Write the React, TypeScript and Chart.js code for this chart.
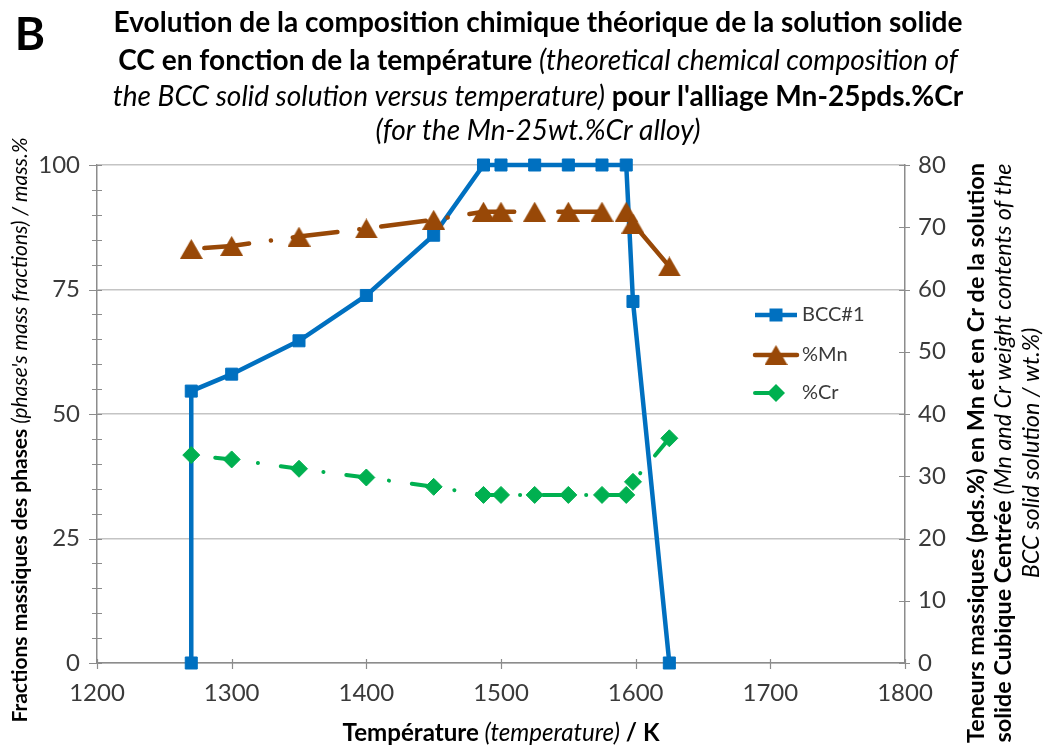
import React, { useEffect, useRef } from 'react';
import { Chart, registerables } from 'chart.js';

Chart.register(...registerables);

// ---- Data ----
const bccTemperature = [1270, 1270, 1300, 1350, 1400, 1450, 1487, 1500, 1525, 1550, 1575, 1593, 1598, 1625];
const bccFraction = [0, 54.6, 58.0, 64.7, 73.8, 85.9, 100, 100, 100, 100, 100, 100, 72.6, 0];
const compTemperature = [1270, 1300, 1350, 1400, 1450, 1487, 1500, 1525, 1550, 1575, 1593, 1598, 1625];
const mnContent = [66.5, 67.0, 68.5, 69.8, 71.2, 72.5, 72.5, 72.5, 72.5, 72.5, 72.5, 70.6, 63.7];
const crContent = [33.4, 32.7, 31.2, 29.8, 28.3, 27.0, 27.0, 27.0, 27.0, 27.0, 27.0, 29.1, 36.1];
const seriesLabels = ['BCC#1', '%Mn', '%Cr'];

const BLUE = '#0070C0';
const BROWN = '#984807';
const GREEN = '#00B050';
const AXIS = '#8c8c8c';
const GRID = '#c4c4c4';
const TICK_TXT = '#3a3a3a';
const FONT = 'Lato';

type Seg = { t: string; b?: boolean; i?: boolean };

function fontOf(s: Seg, size: number) {
  return `${s.i ? 'italic ' : ''}${s.b ? 'bold ' : ''}${size}px ${FONT}`;
}
function widthOf(ctx: CanvasRenderingContext2D, segs: Seg[], size: number) {
  let w = 0;
  for (const s of segs) {
    ctx.font = fontOf(s, size);
    w += ctx.measureText(s.t).width;
  }
  return w;
}
function fitSize(ctx: CanvasRenderingContext2D, segs: Seg[], target: number) {
  const w = widthOf(ctx, segs, 100);
  return (100 * target) / w;
}
function drawSegs(ctx: CanvasRenderingContext2D, segs: Seg[], size: number, cx: number, cy: number, color: string) {
  const w = widthOf(ctx, segs, size);
  let x = cx - w / 2;
  ctx.fillStyle = color;
  ctx.textBaseline = 'middle';
  ctx.textAlign = 'left';
  for (const s of segs) {
    ctx.font = fontOf(s, size);
    ctx.fillText(s.t, x, cy);
    x += ctx.measureText(s.t).width;
  }
}

const titleLines: Seg[][] = [
  [{ t: 'Evolution de la composition chimique théorique de la solution solide', b: true }],
  [{ t: 'CC en fonction de la température ', b: true }, { t: '(theoretical chemical composition of', i: true }],
  [{ t: 'the BCC solid solution versus temperature)', i: true }, { t: " pour l'alliage Mn-25pds.%Cr", b: true }],
  [{ t: '(for the Mn-25wt.%Cr alloy)', i: true }],
];
const xTitle: Seg[] = [{ t: 'Température', b: true }, { t: ' (temperature)', i: true }, { t: ' / K', b: true }];
const leftTitle: Seg[] = [{ t: 'Fractions massiques des phases', b: true }, { t: " (phase's mass fractions) / mass.%", i: true }];
const rightTitle: Seg[][] = [
  [{ t: 'Teneurs massiques (pds.%) en Mn et en Cr de la solution', b: true }],
  [{ t: 'solide Cubique Centrée ', b: true }, { t: '(Mn and Cr weight contents of the', i: true }],
  [{ t: 'BCC solid solution / wt.%)', i: true }],
];

function makeTriangle(color: string, w: number, h: number) {
  const c = document.createElement('canvas');
  c.width = w;
  c.height = h;
  const g = c.getContext('2d')!;
  g.fillStyle = color;
  g.beginPath();
  g.moveTo(w / 2, 0);
  g.lineTo(w, h);
  g.lineTo(0, h);
  g.closePath();
  g.fill();
  return c;
}

export default function App() {
  const ref = useRef<HTMLCanvasElement>(null);

  useEffect(() => {
    const canvas = ref.current!;
    const tri = makeTriangle(BROWN, 23, 20);

    const textPlugin = {
      id: 'richText',
      beforeDatasetsDraw(chart: any) {
        const ctx: CanvasRenderingContext2D = chart.ctx;
        const ca = chart.chartArea;
        const yL = chart.scales.yL;
        const yR = chart.scales.yR;
        const x = chart.scales.x;
        ctx.save();
        ctx.strokeStyle = AXIS;
        ctx.lineWidth = 1.2;
        ctx.beginPath();
        for (let v = 0; v <= 100; v += 5) {
          const y = Math.round(yL.getPixelForValue(v)) + 0.5;
          const major = v % 25 === 0;
          ctx.moveTo(ca.left - (major ? 8 : 5), y);
          ctx.lineTo(ca.left + 5, y);
        }
        for (let v = 0; v <= 80; v += 10) {
          const y = Math.round(yR.getPixelForValue(v)) + 0.5;
          ctx.moveTo(ca.right - 6, y);
          ctx.lineTo(ca.right + 5, y);
        }
        for (let v = 1200; v <= 1800; v += 100) {
          const xx = Math.round(x.getPixelForValue(v)) + 0.5;
          ctx.moveTo(xx, ca.bottom - 4);
          ctx.lineTo(xx, ca.bottom + 6);
        }
        ctx.stroke();
        ctx.restore();
      },
      afterDraw(chart: any) {
        const ctx: CanvasRenderingContext2D = chart.ctx;
        const ca = chart.chartArea;
        ctx.save();
        // panel letter
        ctx.fillStyle = '#000';
        ctx.font = `bold 46px ${FONT}`;
        ctx.textBaseline = 'middle';
        ctx.textAlign = 'center';
        ctx.fillText('B', 30, 35);
        // title
        const ts = fitSize(ctx, titleLines[0], 849);
        const tys = [23, 61, 97, 131];
        titleLines.forEach((l, i) => drawSegs(ctx, l, ts, 538, tys[i], '#000'));
        // x axis title
        const xs = fitSize(ctx, xTitle, 317);
        drawSegs(ctx, xTitle, xs, (ca.left + ca.right) / 2, 733, '#000');
        // left axis title
        const ls = fitSize(ctx, leftTitle, 585);
        ctx.save();
        ctx.translate(20, 430);
        ctx.rotate(-Math.PI / 2);
        drawSegs(ctx, leftTitle, ls, 0, 0, '#000');
        ctx.restore();
        // right axis title
        const rs = fitSize(ctx, rightTitle[0], 580);
        const rxs = [976, 1003, 1031];
        rightTitle.forEach((l, i) => {
          ctx.save();
          ctx.translate(rxs[i], 453);
          ctx.rotate(-Math.PI / 2);
          drawSegs(ctx, l, rs, 0, 0, '#000');
          ctx.restore();
        });
        // legend
        const ds = chart.data.datasets;
        const lys = [315, 355, 393];
        ds.forEach((d: any, i: number) => {
          const y = lys[i];
          ctx.save();
          ctx.strokeStyle = d.borderColor;
          ctx.lineWidth = d.borderWidth;
          ctx.lineCap = d.borderCapStyle || 'butt';
          ctx.setLineDash(d.borderDash || []);
          ctx.beginPath();
          ctx.moveTo(755, y);
          ctx.lineTo(797, y);
          ctx.stroke();
          ctx.restore();
          const mx = 776;
          ctx.fillStyle = d.borderColor;
          if (i === 0) {
            ctx.fillRect(mx - 6.5, y - 6.5, 13, 13);
          } else if (i === 1) {
            ctx.drawImage(tri, mx - 11.5, y - 10);
          } else {
            ctx.beginPath();
            ctx.moveTo(mx - 9, y);
            ctx.lineTo(mx, y - 9);
            ctx.lineTo(mx + 9, y);
            ctx.lineTo(mx, y + 9);
            ctx.closePath();
            ctx.fill();
          }
          ctx.fillStyle = TICK_TXT;
          ctx.font = `20px ${FONT}`;
          ctx.textAlign = 'left';
          ctx.textBaseline = 'middle';
          ctx.fillText(seriesLabels[i], 802, y);
        });
        ctx.restore();
      },
    };

    const chart = new Chart(canvas, {
      type: 'line',
      data: {
        datasets: [
          {
            label: seriesLabels[0],
            data: bccTemperature.map((t, i) => ({ x: t, y: bccFraction[i] })),
            yAxisID: 'yL',
            borderColor: BLUE,
            backgroundColor: BLUE,
            borderWidth: 4.5,
            pointStyle: 'rect',
            pointRadius: 8.5,
            pointBorderWidth: 1,
            pointBackgroundColor: BLUE,
            pointBorderColor: BLUE,
            clip: false,
            order: 3,
          } as any,
          {
            label: seriesLabels[1],
            data: compTemperature.map((t, i) => ({ x: t, y: mnContent[i] })),
            yAxisID: 'yR',
            borderColor: BROWN,
            backgroundColor: BROWN,
            borderWidth: 4.5,
            borderDash: [45, 22, 0.1, 22],
            borderDashOffset: 76,
            borderCapStyle: 'round',
            pointStyle: tri,
            pointRadius: 11,
            clip: false,
            order: 1,
          } as any,
          {
            label: seriesLabels[2],
            data: compTemperature.map((t, i) => ({ x: t, y: crContent[i] })),
            yAxisID: 'yR',
            borderColor: GREEN,
            backgroundColor: GREEN,
            borderWidth: 4,
            borderDash: [20, 23, 0.1, 23],
            borderDashOffset: 42,
            borderCapStyle: 'round',
            pointStyle: 'rectRot',
            pointRadius: 8.5,
            pointBorderWidth: 1,
            pointBackgroundColor: GREEN,
            pointBorderColor: GREEN,
            clip: false,
            order: 2,
          } as any,
        ],
      },
      options: {
        animation: false,
        responsive: false,
        devicePixelRatio: 1,
        events: [],
        layout: { padding: { top: 165, left: 0, right: 0, bottom: 0 } },
        plugins: {
          legend: { display: false },
          tooltip: { enabled: false },
          title: { display: false },
        },
        scales: {
          x: {
            type: 'linear',
            min: 1200,
            max: 1800,
            ticks: {
              stepSize: 100,
              color: TICK_TXT,
              font: { family: FONT, size: 24 },
              padding: 16,
              maxRotation: 0,
              callback: (v: any) => String(v),
            },
            grid: { display: true, drawOnChartArea: false, drawTicks: false },
            border: { display: true, color: AXIS, width: 1.5 },
            afterFit: (s: any) => { s.height = 83; },
          },
          yL: {
            type: 'linear',
            position: 'left',
            min: 0,
            max: 100,
            ticks: { stepSize: 25, color: TICK_TXT, font: { family: FONT, size: 24 }, padding: 17 },
            grid: { color: GRID, lineWidth: 1.5, drawTicks: false },
            border: { display: true, color: AXIS, width: 1.5 },
            afterFit: (s: any) => { s.width = 97; },
          },
          yR: {
            type: 'linear',
            position: 'right',
            min: 0,
            max: 80,
            ticks: { stepSize: 10, color: TICK_TXT, font: { family: FONT, size: 24 }, padding: 13 },
            grid: { drawOnChartArea: false, drawTicks: false },
            border: { display: true, color: AXIS, width: 1.5 },
            afterFit: (s: any) => { s.width = 141; },
          },
        },
      } as any,
      plugins: [textPlugin],
    });
    return () => chart.destroy();
  }, []);

  return (
    <div style={{ position: 'absolute', left: 0, top: 0, width: 1046, height: 746, background: '#fff' }}>
      <canvas ref={ref} width={1046} height={746} style={{ display: 'block', width: 1046, height: 746 }} />
    </div>
  );
}
